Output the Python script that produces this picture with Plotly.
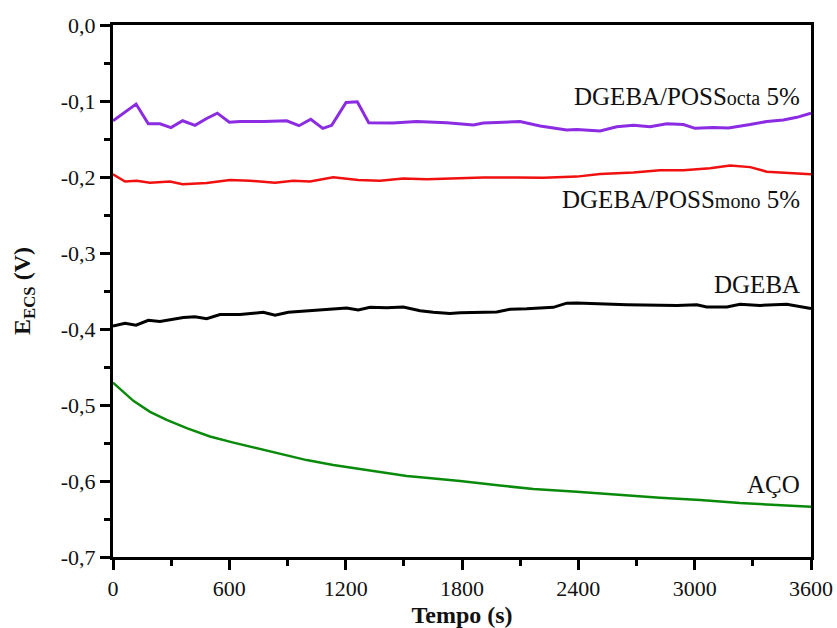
import plotly.graph_objects as go

# ---- data ----
x_octa = [0, 119, 182, 242, 299, 359, 423, 483, 538, 600, 655, 780, 896, 959, 1020, 1082, 1128,
          1202, 1260, 1319, 1444, 1566, 1721, 1859, 1910, 2099, 2203, 2340, 2392, 2512, 2598, 2684,
          2770, 2856, 2942, 3002, 3097, 3174, 3286, 3372, 3457, 3527, 3600]
y_octa = [-0.126, -0.104, -0.130, -0.130, -0.135, -0.126, -0.132, -0.123, -0.116, -0.128, -0.127,
          -0.127, -0.126, -0.1325, -0.124, -0.136, -0.132, -0.102, -0.101, -0.1285, -0.129, -0.127,
          -0.1285, -0.1315, -0.129, -0.127, -0.133, -0.138, -0.1375, -0.1395, -0.134, -0.132, -0.134,
          -0.130, -0.131, -0.136, -0.135, -0.1355, -0.131, -0.127, -0.125, -0.1215, -0.116]

x_mono = [0, 62, 122, 191, 294, 359, 483, 603, 707, 836, 930, 1016, 1136, 1265, 1377, 1497, 1618,
          1738, 1910, 2082, 2220, 2392, 2512, 2684, 2821, 2942, 3079, 3183, 3286, 3372, 3492, 3600]
y_mono = [-0.1965, -0.206, -0.205, -0.2075, -0.206, -0.2095, -0.208, -0.204, -0.205, -0.2075,
          -0.205, -0.206, -0.2005, -0.204, -0.205, -0.202, -0.203, -0.202, -0.2005, -0.2005, -0.201,
          -0.1995, -0.196, -0.194, -0.191, -0.191, -0.1885, -0.185, -0.187, -0.193, -0.195, -0.1965]

x_dgeba = [0, 62, 119, 182, 242, 363, 423, 483, 552, 655, 775, 836, 904, 1016, 1119, 1205, 1265,
           1326, 1412, 1497, 1584, 1652, 1738, 1790, 1979, 2048, 2134, 2271, 2340, 2392, 2650, 2908,
           3011, 3062, 3166, 3234, 3337, 3475, 3600]
y_dgeba = [-0.396, -0.3925, -0.395, -0.3885, -0.390, -0.385, -0.384, -0.3865, -0.381, -0.381,
           -0.378, -0.382, -0.378, -0.376, -0.3745, -0.3725, -0.375, -0.3715, -0.372, -0.371, -0.376,
           -0.378, -0.3795, -0.3785, -0.3775, -0.374, -0.3735, -0.3715, -0.366, -0.3658, -0.368,
           -0.369, -0.368, -0.371, -0.371, -0.3675, -0.369, -0.3675, -0.373]

x_aco = [0, 105, 191, 277, 380, 500, 621, 758, 878, 999, 1136, 1274, 1394, 1515, 1600, 1652, 1790,
         1996, 2168, 2392, 2632, 2821, 3028, 3234, 3423, 3600]
y_aco = [-0.4705, -0.4945, -0.509, -0.5195, -0.5305, -0.5415, -0.5495, -0.558, -0.566, -0.5725,
         -0.579, -0.5845, -0.589, -0.5935, -0.5955, -0.5965, -0.600, -0.606, -0.6105, -0.614,
         -0.619, -0.622, -0.625, -0.629, -0.6315, -0.634]

x_tickvals = [0, 600, 1200, 1800, 2400, 3000, 3600]
x_ticktext = ["0", "600", "1200", "1800", "2400", "3000", "3600"]
y_tickvals = [0.0, -0.1, -0.2, -0.3, -0.4, -0.5, -0.6, -0.7]
y_ticktext = ["0,0", "-0,1", "-0,2", "-0,3", "-0,4", "-0,5", "-0,6", "-0,7"]

series = [
    ("DGEBA/POSSocta 5%", x_octa, y_octa, "#8B2BE2", 3),
    ("DGEBA/POSSmono 5%", x_mono, y_mono, "#F01010", 2.5),
    ("DGEBA", x_dgeba, y_dgeba, "#000000", 3),
    ("AÇO", x_aco, y_aco, "#0A8A0A", 2.5),
]

label_text = [
    "DGEBA/POSS<span style='font-size:20px'>octa</span> 5%",
    "DGEBA/POSS<span style='font-size:20px'>mono</span> 5%",
    "DGEBA",
    "AÇO",
]
label_y = [-0.0947, -0.230, -0.342, -0.605]

FONT = "Times New Roman"

fig = go.Figure()
for name, xs, ys, col, w in series:
    fig.add_trace(go.Scatter(x=xs, y=ys, mode="lines", name=name,
                             line=dict(color=col, width=w), showlegend=False))

for txt, ly in zip(label_text, label_y):
    fig.add_annotation(x=3555, y=ly, xref="x", yref="y", text=txt, showarrow=False,
                       xanchor="right", yanchor="middle",
                       font=dict(family=FONT, size=25, color="#111111"))

axis_common = dict(
    showline=True, linecolor="black", linewidth=3, mirror=True,
    showgrid=False, zeroline=False,
    ticks="outside", ticklen=10, tickwidth=3, tickcolor="black",
    tickfont=dict(family=FONT, size=22, color="#111111"),
)

fig.update_xaxes(
    range=[0, 3600], tickvals=x_tickvals, ticktext=x_ticktext,
    minor=dict(dtick=300, tick0=0, ticks="outside", ticklen=6, tickwidth=3, tickcolor="black"),
    title=dict(text="Tempo (s)", font=dict(family=FONT, size=24, color="#111111", weight="bold"),
               standoff=14),
    **axis_common,
)
fig.update_yaxes(
    range=[-0.7, 0.0], tickvals=y_tickvals, ticktext=y_ticktext,
    minor=dict(dtick=0.05, tick0=0, ticks="outside", ticklen=6, tickwidth=3, tickcolor="black"),
    title=dict(text="E<sub>ECS</sub> (V)",
               font=dict(family=FONT, size=24, color="#111111", weight="bold"), standoff=24),
    **axis_common,
)

fig.update_layout(
    width=837, height=628,
    margin=dict(l=113, r=26, t=25, b=71, autoexpand=False),
    plot_bgcolor="white", paper_bgcolor="white",
    font=dict(family=FONT),
)

# remove the default 8px page margin so the figure fills the window exactly
fig.write_html("out.html",
               config={"displayModeBar": False},
               post_script="document.body.style.margin='0';document.body.style.overflow='hidden';")
